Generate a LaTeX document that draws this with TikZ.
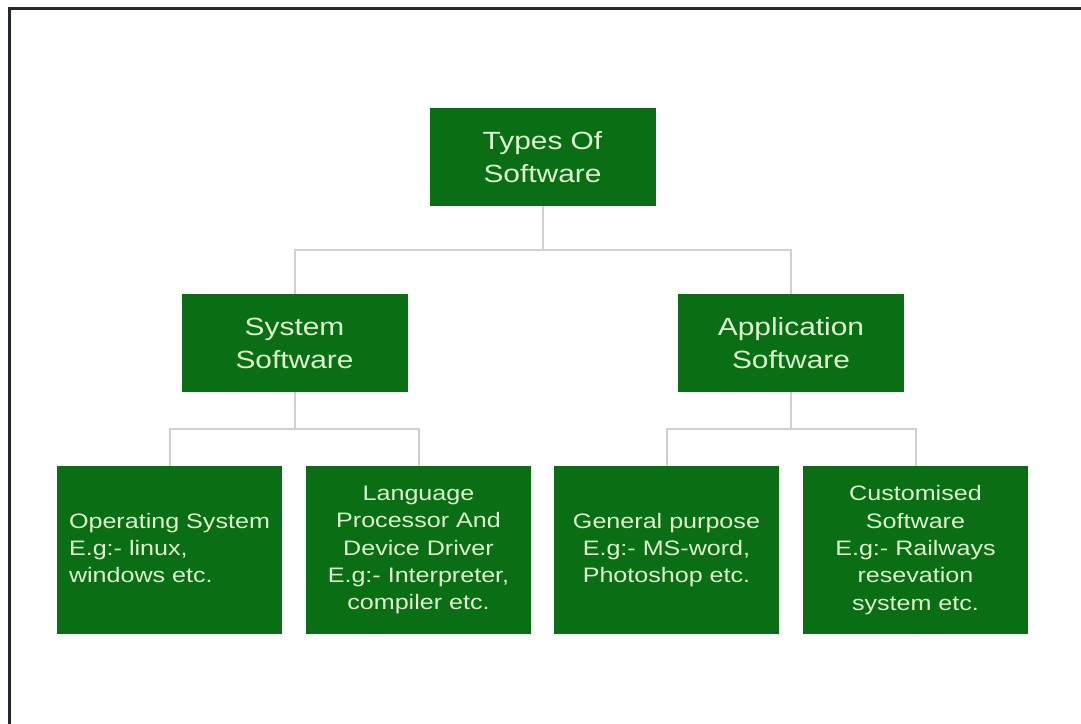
\documentclass[tikz,border=0pt]{standalone}
\usepackage{fontspec}
\setmainfont[FakeStretch=1.2]{Liberation Sans}
\definecolor{boxgreen}{RGB}{10,110,20}
\definecolor{boxtext}{RGB}{222,242,208}
\definecolor{linkgray}{RGB}{208,208,208}
\definecolor{framedark}{RGB}{36,40,50}
\begin{document}
\begin{tikzpicture}[x=1bp,y=-1bp,
  topbox/.style={fill=boxgreen, text=boxtext, inner sep=0pt, minimum width=226bp, minimum height=98bp, align=center, font=\fontsize{25}{33}\selectfont},
  leafbox/.style={fill=boxgreen, text=boxtext, inner sep=0pt, minimum width=225bp, minimum height=168bp, align=center, font=\fontsize{21}{27.5}\selectfont},
  link/.style={draw=linkgray, line width=2bp}]
\useasboundingbox (0,0) rectangle (1081,724);
\fill[white] (0,0) rectangle (1081,724);
\draw[framedark, line width=3bp] (9,724) -- (9,8.5) -- (1081,8.5);

\node[topbox] (root) at (542.5,157) {Types Of\\Software};
\node[topbox] (sys) at (294.5,343) {System\\Software};
\node[topbox] (app) at (791,343) {Application\\Software};

\node[leafbox] (os) at (169.5,550) {\begin{tabular}{@{}l@{}}Operating System\\E.g:- linux,\\windows etc.\end{tabular}};
\node[leafbox] (lp) at (418.5,550) {Language\\Processor And\\Device Driver\\E.g:- Interpreter,\\compiler etc.};
\node[leafbox] (gp) at (666.5,550) {General purpose\\E.g:- MS-word,\\Photoshop etc.};
\node[leafbox] (cs) at (915.5,550) {Customised\\Software\\E.g:- Railways\\resevation\\system etc.};

\coordinate (j1) at (542.5,250);
\coordinate (j2) at (294.5,429);
\coordinate (j3) at (791,429);

\draw[link] (root.south) -- (j1);
\draw[link] (j1) -| (sys.north);
\draw[link] (j1) -| (app.north);
\draw[link] (sys.south) -- (j2);
\draw[link] (j2) -| (os.north);
\draw[link] (j2) -| (lp.north);
\draw[link] (app.south) -- (j3);
\draw[link] (j3) -| (gp.north);
\draw[link] (j3) -| (cs.north);
\end{tikzpicture}
\end{document}
